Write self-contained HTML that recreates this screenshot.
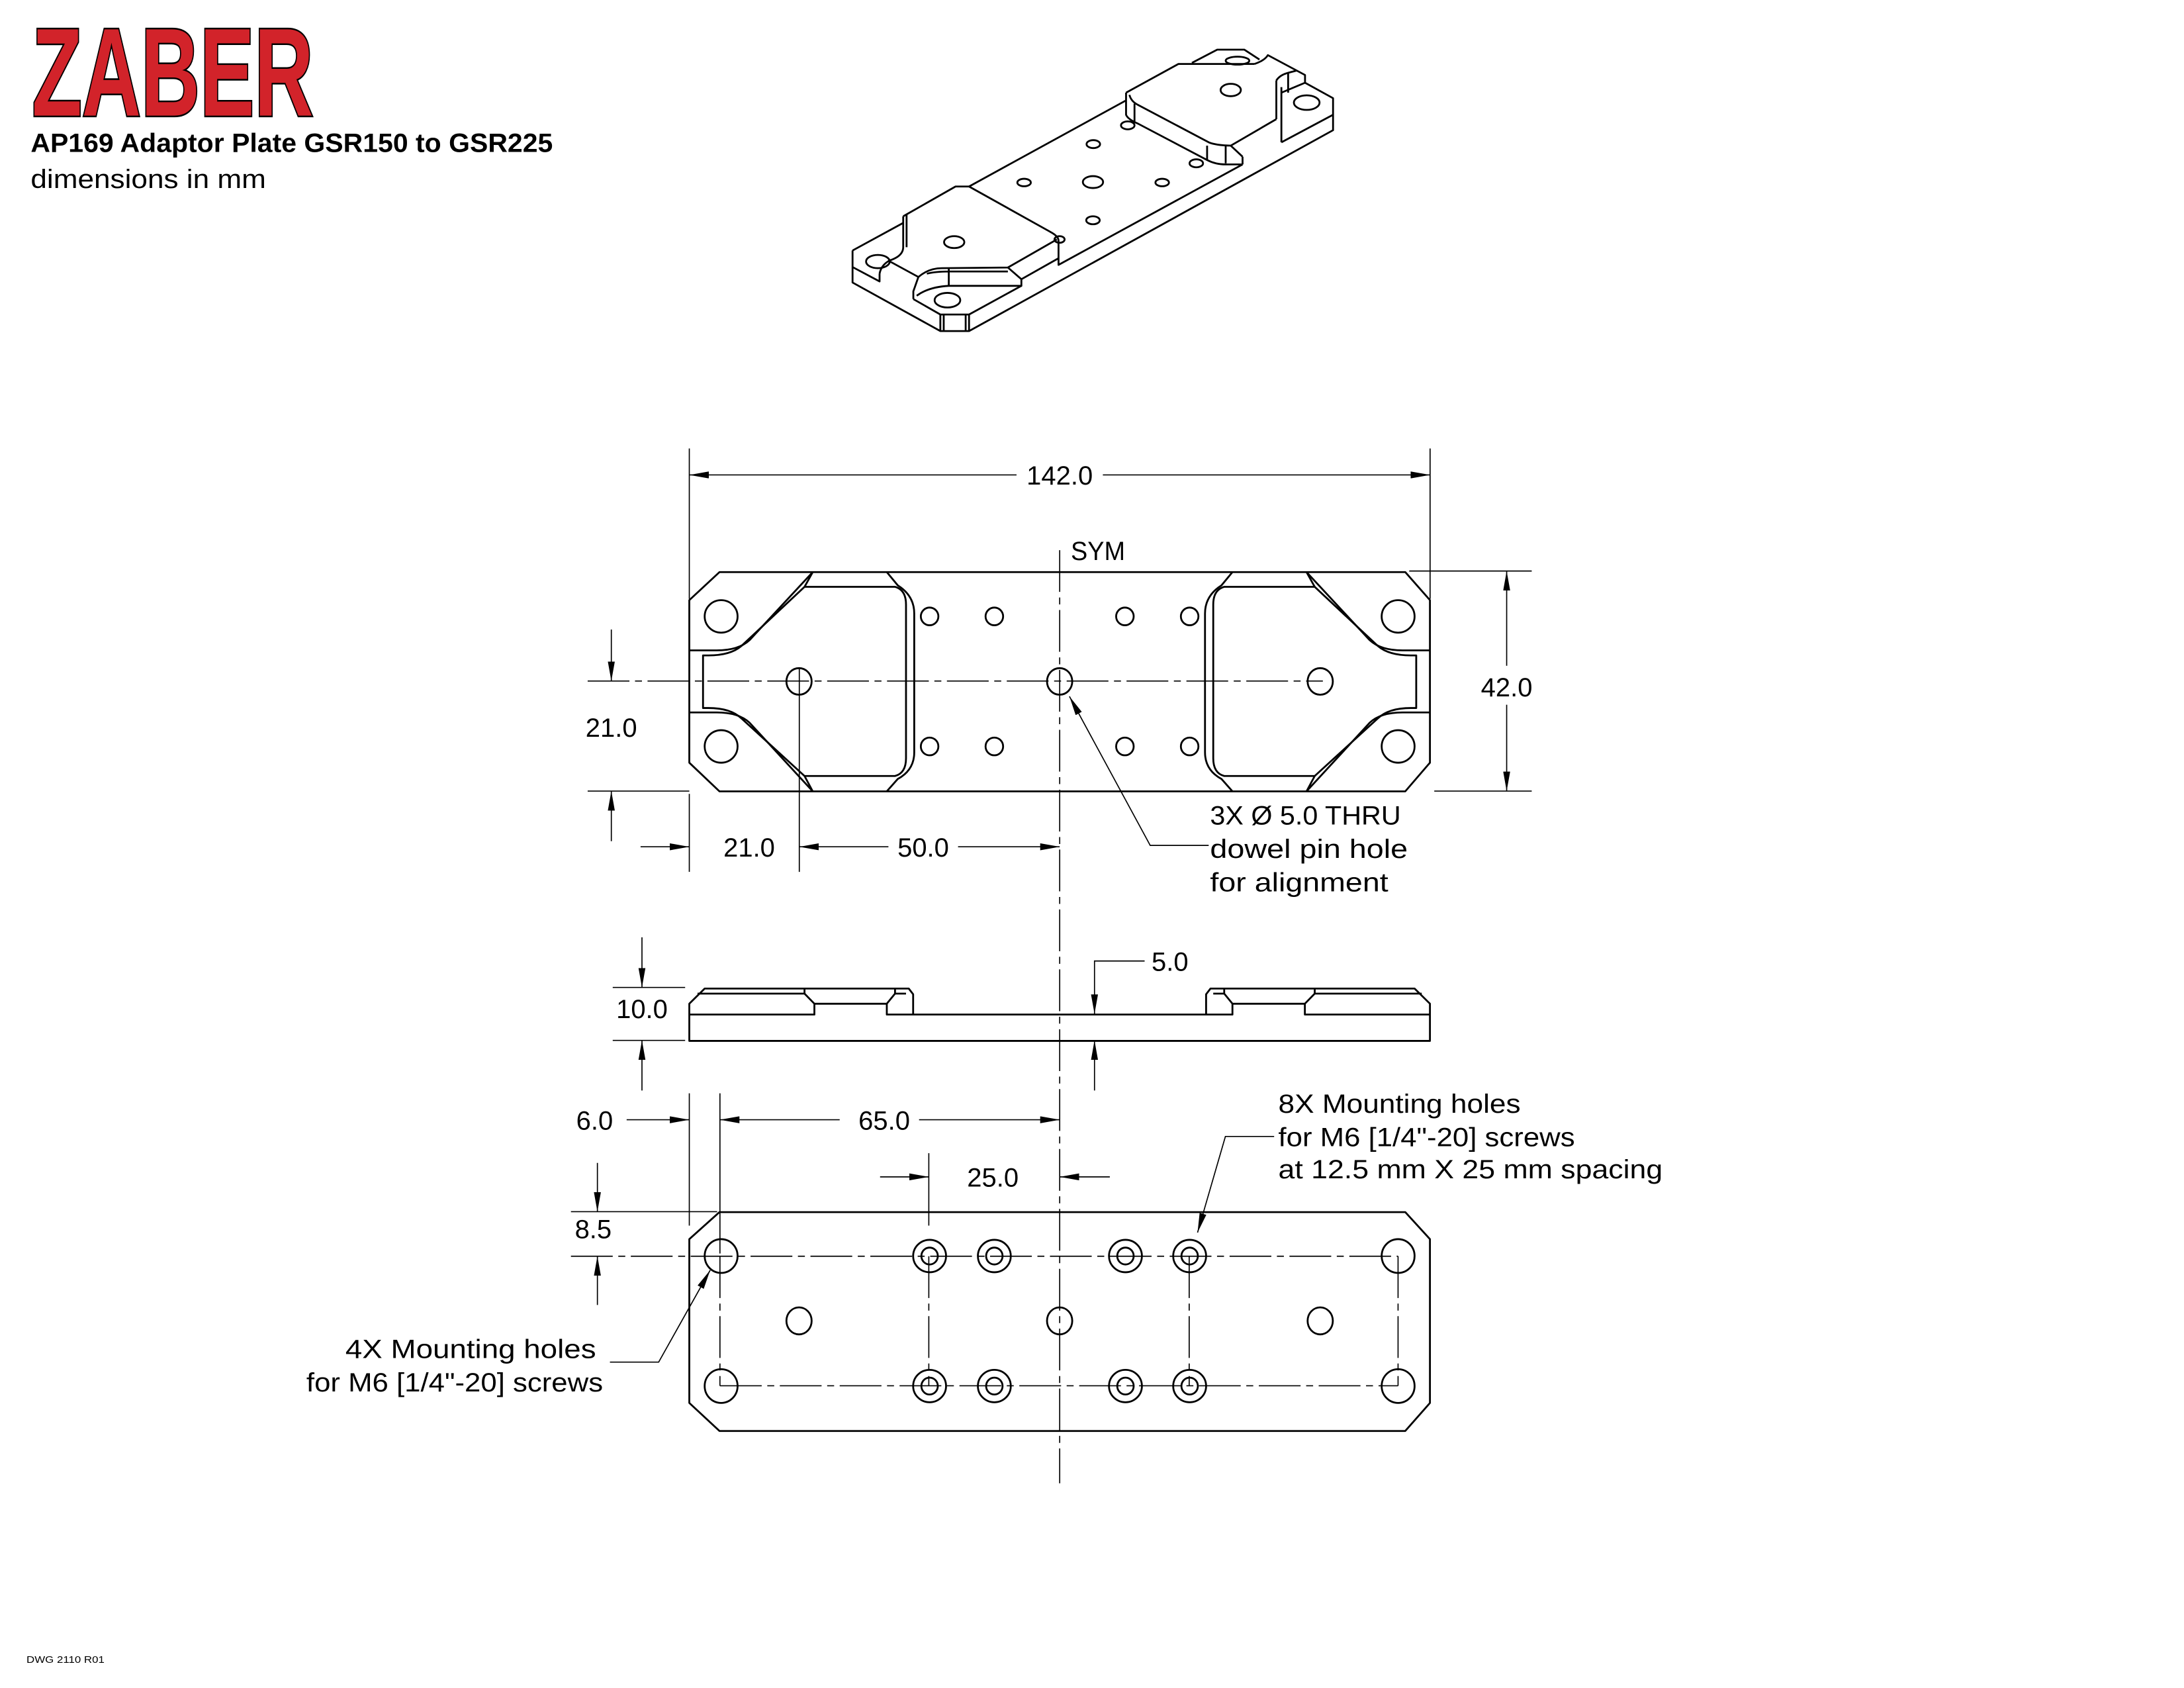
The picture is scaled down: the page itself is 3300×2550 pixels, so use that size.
<!DOCTYPE html>
<html><head><meta charset="utf-8"><style>
html,body{margin:0;padding:0;background:#fff}
svg{display:block}
text{font-family:"Liberation Sans",sans-serif;fill:#000}
.g path,.g line,.g ellipse,.g polyline{fill:none;stroke:#000;stroke-width:2.8;vector-effect:non-scaling-stroke;stroke-linejoin:round}
.d{stroke:#000;stroke-width:0.8;fill:none}
.c{stroke:#000;stroke-width:0.8;fill:none;stroke-dasharray:30 4 5 4}
</style></head><body>
<svg width="3300" height="2550" viewBox="0 0 1568.4 1212" xmlns="http://www.w3.org/2000/svg">
<defs>
<marker id="a" viewBox="0 0 14 5" refX="14" refY="2.5" markerWidth="14" markerHeight="5" markerUnits="userSpaceOnUse" orient="auto"><path d="M0,0L14,2.5L0,5z" fill="#000"/></marker>
</defs>

<!-- header -->
<text x="23" y="83" font-size="90" font-weight="bold" stroke="#000" stroke-width="2.4" paint-order="stroke" textLength="202" lengthAdjust="spacingAndGlyphs" style="fill:#d2232a">ZABER</text>
<text x="22" y="109" font-size="19" font-weight="bold" textLength="375" lengthAdjust="spacingAndGlyphs">AP169 Adaptor Plate GSR150 to GSR225</text>
<text x="22" y="135" font-size="19" textLength="169" lengthAdjust="spacingAndGlyphs">dimensions in mm</text>
<text x="19" y="1194" font-size="7" textLength="56" lengthAdjust="spacingAndGlyphs">DWG 2110 R01</text>

<!-- iso view -->
<g class="g" transform="translate(598.9,28.5) scale(0.2425,0.1585)">
<path d="M55,955 L55,1100 L315,1320 L400,1320 L1478,410 L1478,265 L1395,195"/>
<path d="M55,1030 L135,1095 L135,1060"/>
<path d="M235,1175 L315,1245 L400,1245 L555,1115"/>
<path d="M1210,565 L1210,530"/>
<path d="M1325,465 L1478,340"/>
<path d="M315,1245 L315,1320 M325,1245 L325,1320 M390,1245 L390,1320 M400,1245 L400,1320"/>
<path d="M55,955 L205,830"/>
<path d="M205,800 L205,940 Q205,980 165,1000 Q140,1020 135,1060"/>
<path d="M215,790 L215,940"/>
<path d="M205,800 L360,665 L400,665 L640,870 Q665,890 665,910 L665,1020 L1210,565"/>
<path d="M400,665 L865,275"/>
<path d="M160,1000 L250,1075 L235,1140 L235,1175"/>
<path d="M250,1075 Q280,1035 320,1035 L515,1032 L660,905"/>
<path d="M275,1060 Q300,1050 340,1050 L515,1050 M340,1035 L340,1115"/>
<path d="M515,1032 L555,1085 L555,1115 L340,1115 Q280,1120 245,1160"/>
<path d="M555,1085 L665,990"/>
<path d="M865,240 L1020,110 L1245,110"/>
<path d="M1060,105 L1135,45 L1215,45 L1260,90"/>
<path d="M1245,110 Q1275,95 1285,70 L1395,160 L1395,195 L1325,240"/>
<path d="M865,240 L865,340 Q870,360 900,380 L1105,545 Q1130,565 1160,565 L1210,565"/>
<path d="M875,250 Q880,280 900,295 L1110,465 Q1130,478 1175,480 L1310,360"/>
<path d="M890,290 L890,370 M1105,480 L1105,545 M1160,480 L1160,560 M1175,480 L1210,530"/>
<path d="M1310,185 Q1320,160 1345,150 L1370,140 M1310,185 L1310,360 M1325,215 L1325,465 M1345,150 L1345,240"/>
<ellipse cx="1195" cy="95" rx="35" ry="18"/>
<ellipse cx="1175" cy="228" rx="30" ry="28"/>
<ellipse cx="1400" cy="285" rx="38" ry="33"/>
<ellipse cx="870" cy="388" rx="20" ry="18"/>
<ellipse cx="768" cy="473" rx="20" ry="18"/>
<ellipse cx="1073" cy="560" rx="20" ry="18"/>
<ellipse cx="563" cy="647" rx="20" ry="17"/>
<ellipse cx="767" cy="645" rx="30" ry="27"/>
<ellipse cx="972" cy="647" rx="20" ry="17"/>
<ellipse cx="767" cy="818" rx="20" ry="18"/>
<ellipse cx="356" cy="917" rx="30" ry="27"/>
<ellipse cx="668" cy="905" rx="15" ry="15"/>
<ellipse cx="130" cy="1005" rx="35" ry="30"/>
<ellipse cx="336" cy="1180" rx="38" ry="33"/>
</g>

<!-- top view -->
<g class="g" transform="translate(475.3,308.9) scale(0.394,0.2122)">
<path d="M105,480 L1355,480 L1400,575 L1400,1125 L1355,1222 L105,1222 L50,1125 L50,575 Z"/>
<g id="lp">
<path d="M275,480 L160,710 Q140,745 100,745 L50,745"/>
<path d="M260,530 L145,730 Q125,762 85,762 L75,762 L75,940 L85,940 Q125,940 145,975 L260,1170"/>
<path d="M50,955 L100,955 Q140,955 160,990 L275,1222"/>
<path d="M275,480 L260,530 L425,530 Q445,540 445,590 L445,1110 Q445,1160 425,1170 L260,1170 L275,1222"/>
<path d="M410,480 L430,525 Q460,560 460,620 L460,1090 Q460,1150 430,1180 L410,1222"/>
<ellipse cx="108" cy="630" rx="30" ry="55"/>
<ellipse cx="108" cy="1070" rx="30" ry="55"/>
<ellipse cx="488" cy="630" rx="16" ry="30"/>
<ellipse cx="606" cy="630" rx="16" ry="30"/>
<ellipse cx="488" cy="1070" rx="16" ry="30"/>
<ellipse cx="606" cy="1070" rx="16" ry="30"/>
<ellipse cx="250" cy="850" rx="23" ry="45"/>
</g>
<use href="#lp" transform="translate(1450,0) scale(-1,1)"/>
<ellipse cx="725" cy="850" rx="23" ry="45"/>
</g>
<line class="c" x1="422" y1="489" x2="950" y2="489"/>
<line class="c" x1="761" y1="395" x2="761" y2="1065"/>
<line class="d" x1="574" y1="480" x2="574" y2="626"/>

<!-- 142 -->
<line class="d" x1="495" y1="322" x2="495" y2="430"/>
<line class="d" x1="1027" y1="322" x2="1027" y2="430"/>
<line class="d" x1="730" y1="341" x2="495" y2="341" marker-end="url(#a)"/>
<line class="d" x1="792" y1="341" x2="1027" y2="341" marker-end="url(#a)"/>
<text x="761" y="348" font-size="19" text-anchor="middle">142.0</text>
<text x="769" y="402" font-size="19" textLength="39" lengthAdjust="spacingAndGlyphs">SYM</text>
<!-- 42 -->
<line class="d" x1="1012" y1="410" x2="1100" y2="410"/>
<line class="d" x1="1030" y1="568" x2="1100" y2="568"/>
<line class="d" x1="1082" y1="478" x2="1082" y2="410" marker-end="url(#a)"/>
<line class="d" x1="1082" y1="506" x2="1082" y2="568" marker-end="url(#a)"/>
<text x="1082" y="500" font-size="19" text-anchor="middle">42.0</text>
<!-- 21 vertical -->
<line class="d" x1="422" y1="568" x2="495" y2="568"/>
<line class="d" x1="439" y1="452" x2="439" y2="489" marker-end="url(#a)"/>
<line class="d" x1="439" y1="604" x2="439" y2="568" marker-end="url(#a)"/>
<text x="439" y="529" font-size="19" text-anchor="middle">21.0</text>
<!-- 21 / 50 horizontal -->
<line class="d" x1="495" y1="570" x2="495" y2="626"/>
<line class="d" x1="460" y1="608" x2="495" y2="608" marker-end="url(#a)"/>
<text x="538" y="615" font-size="19" text-anchor="middle">21.0</text>
<line class="d" x1="638" y1="608" x2="574" y2="608" marker-end="url(#a)"/>
<text x="663" y="615" font-size="19" text-anchor="middle">50.0</text>
<line class="d" x1="688" y1="608" x2="761" y2="608" marker-end="url(#a)"/>
<!-- dowel leader -->
<polyline class="d" points="868,607 826,607 768,500" marker-end="url(#a)"/>
<text x="869" y="592" font-size="19" textLength="137" lengthAdjust="spacingAndGlyphs">3X  Ø  5.0 THRU</text>
<text x="869" y="616" font-size="19" textLength="142" lengthAdjust="spacingAndGlyphs">dowel pin hole</text>
<text x="869" y="640" font-size="19" textLength="128" lengthAdjust="spacingAndGlyphs">for alignment</text>

<!-- side view -->
<g class="g" transform="translate(475.3,665.4) scale(0.394,0.2425)">
<g id="sv">
<path d="M725,338 L50,338 L50,228 L78,183 L450,183 L458,200 L458,260 L725,260"/>
<path d="M50,260 L278,260 L278,228 L260,198 L65,198"/>
<path d="M260,183 L260,198 M278,228 L410,228 L425,198 L445,198 M425,183 L425,198 M410,228 L410,260 L458,260"/>
</g>
<use href="#sv" transform="translate(1450,0) scale(-1,1)"/>
</g>
<!-- 10.0 -->
<line class="d" x1="440" y1="709" x2="492" y2="709"/>
<line class="d" x1="440" y1="747" x2="492" y2="747"/>
<line class="d" x1="461" y1="673" x2="461" y2="709" marker-end="url(#a)"/>
<line class="d" x1="461" y1="783" x2="461" y2="747" marker-end="url(#a)"/>
<text x="461" y="731" font-size="19" text-anchor="middle">10.0</text>
<!-- 5.0 -->
<polyline class="d" points="822,690 786,690 786,728" marker-end="url(#a)"/>
<line class="d" x1="786" y1="783" x2="786" y2="747" marker-end="url(#a)"/>
<text x="827" y="697" font-size="19">5.0</text>

<!-- bottom view -->
<g class="g" transform="translate(475.3,665.4) scale(0.394,0.2425)">
<path d="M105,845 L1355,845 L1400,925 L1400,1410 L1355,1493 L105,1493 L50,1410 L50,925 Z"/>
<ellipse cx="108" cy="975" rx="30" ry="50"/>
<ellipse cx="1342" cy="975" rx="30" ry="50"/>
<ellipse cx="108" cy="1360" rx="30" ry="50"/>
<ellipse cx="1342" cy="1360" rx="30" ry="50"/>
<ellipse cx="488" cy="975" rx="30" ry="48"/><ellipse cx="488" cy="975" rx="15" ry="25"/>
<ellipse cx="606" cy="975" rx="30" ry="48"/><ellipse cx="606" cy="975" rx="15" ry="25"/>
<ellipse cx="845" cy="975" rx="30" ry="48"/><ellipse cx="845" cy="975" rx="15" ry="25"/>
<ellipse cx="962" cy="975" rx="30" ry="48"/><ellipse cx="962" cy="975" rx="15" ry="25"/>
<ellipse cx="488" cy="1360" rx="30" ry="48"/><ellipse cx="488" cy="1360" rx="15" ry="25"/>
<ellipse cx="606" cy="1360" rx="30" ry="48"/><ellipse cx="606" cy="1360" rx="15" ry="25"/>
<ellipse cx="845" cy="1360" rx="30" ry="48"/><ellipse cx="845" cy="1360" rx="15" ry="25"/>
<ellipse cx="962" cy="1360" rx="30" ry="48"/><ellipse cx="962" cy="1360" rx="15" ry="25"/>
<ellipse cx="250" cy="1167" rx="23" ry="40"/>
<ellipse cx="725" cy="1167" rx="23" ry="40"/>
<ellipse cx="1200" cy="1167" rx="23" ry="40"/>
</g>
<line class="c" x1="410" y1="902" x2="1004" y2="902"/>
<line class="c" x1="517" y1="995" x2="1004" y2="995"/>
<line class="c" x1="517" y1="902" x2="517" y2="995"/>
<line class="c" x1="1004" y1="902" x2="1004" y2="995"/>
<line class="c" x1="667" y1="902" x2="667" y2="995"/>
<line class="c" x1="854" y1="902" x2="854" y2="995"/>
<line class="d" x1="667" y1="828" x2="667" y2="880"/>
<line class="d" x1="517" y1="785" x2="517" y2="900"/>
<line class="d" x1="495" y1="785" x2="495" y2="880"/>
<line class="d" x1="410" y1="870" x2="515" y2="870"/>
<!-- 6.0 / 65.0 -->
<line class="d" x1="450" y1="804" x2="495" y2="804" marker-end="url(#a)"/>
<text x="427" y="811" font-size="19" text-anchor="middle">6.0</text>
<line class="d" x1="603" y1="804" x2="517" y2="804" marker-end="url(#a)"/>
<text x="635" y="811" font-size="19" text-anchor="middle">65.0</text>
<line class="d" x1="660" y1="804" x2="761" y2="804" marker-end="url(#a)"/>
<!-- 25.0 -->
<line class="d" x1="632" y1="845" x2="667" y2="845" marker-end="url(#a)"/>
<text x="713" y="852" font-size="19" text-anchor="middle">25.0</text>
<line class="d" x1="797" y1="845" x2="761" y2="845" marker-end="url(#a)"/>
<!-- 8.5 -->
<line class="d" x1="429" y1="835" x2="429" y2="870" marker-end="url(#a)"/>
<line class="d" x1="429" y1="937" x2="429" y2="902" marker-end="url(#a)"/>
<text x="426" y="889" font-size="19" text-anchor="middle">8.5</text>
<!-- 4X leader -->
<polyline class="d" points="438,978 473,978 510,912" marker-end="url(#a)"/>
<text x="248" y="975" font-size="19" textLength="180" lengthAdjust="spacingAndGlyphs">4X  Mounting holes</text>
<text x="220" y="999" font-size="19" textLength="213" lengthAdjust="spacingAndGlyphs">for M6 [1/4"-20] screws</text>
<!-- 8X leader -->
<polyline class="d" points="915,816 880,816 860,885" marker-end="url(#a)"/>
<text x="918" y="799" font-size="19" textLength="174" lengthAdjust="spacingAndGlyphs">8X Mounting holes</text>
<text x="918" y="823" font-size="19" textLength="213" lengthAdjust="spacingAndGlyphs">for M6 [1/4"-20] screws</text>
<text x="918" y="846" font-size="19" textLength="276" lengthAdjust="spacingAndGlyphs">at 12.5 mm X 25 mm spacing</text>
</svg>
</body></html>
